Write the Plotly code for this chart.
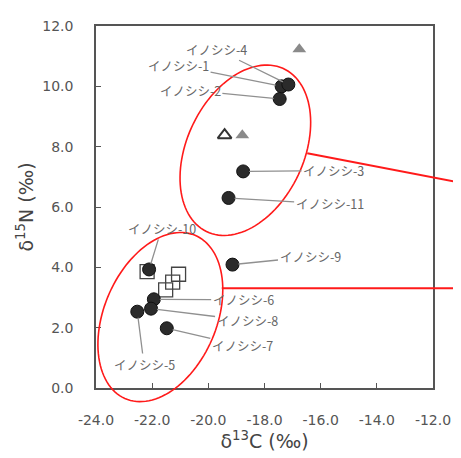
import numpy as np
import plotly.graph_objects as go

# Boar samples (δ13C, δ15N)
boar_labels = ["イノシシ-1", "イノシシ-2", "イノシシ-3", "イノシシ-4", "イノシシ-5", "イノシシ-6",
               "イノシシ-7", "イノシシ-8", "イノシシ-9", "イノシシ-10", "イノシシ-11"]
boar_c = [-17.39, -17.46, -18.76, -17.15, -22.53, -21.94, -21.48, -22.04, -19.14, -22.11, -19.28]
boar_n = [10.00, 9.58, 7.18, 10.06, 2.53, 2.94, 1.98, 2.63, 4.09, 3.93, 6.30]
# label positions (data units)
label_c = [-21.06, -20.64, -15.54, -19.70, -22.29, -18.76, -18.79, -18.62, -16.38, -21.66, -15.68]
label_n = [10.68, 9.87, 7.21, 11.23, 0.78, 2.92, 1.40, 2.24, 4.35, 5.29, 6.10]

# Reference groups
square_c = [-22.18, -21.06, -21.27, -21.52]
square_n = [3.86, 3.77, 3.51, 3.25]
tri_open_c = [-19.42]
tri_open_n = [8.38]
tri_fill_c = [-18.79, -16.76]
tri_fill_n = [8.38, 11.23]

x_ticks = [-24, -22, -20, -18, -16, -14, -12]
y_ticks = [0, 2, 4, 6, 8, 10, 12]

# page body has an 8px margin; figure is placed at (8, 8)
OFF = 8
SW, SH = 461, 458               # screen size
PL, PR, PT, PB = 96, 439, 18, 388  # plot box in screen px
W, H = SW - OFF, SH - OFF
ML, MT = PL - OFF, PT - OFF
MR, MB = SW - PR, SH - PB
PW, PH = PR - PL, PB - PT

def to_paper(px, py):
    return (px - PL) / PW, (PB - py) / PH

def ellipse_path(cx, cy, a, b, theta_deg, n=120):
    th = np.radians(theta_deg)
    t = np.linspace(0, 2 * np.pi, n)
    dx = b * np.cos(t) * np.cos(th) + a * np.sin(t) * np.sin(th)
    dy = b * np.cos(t) * np.sin(th) - a * np.sin(t) * np.cos(th)
    pts = [to_paper(cx + x, cy + y) for x, y in zip(dx, dy)]
    return "M " + " L ".join(f"{x:.4f},{y:.4f}" for x, y in pts) + " Z"

fig = go.Figure()
fig.add_trace(go.Scatter(x=square_c, y=square_n, mode="markers",
                         marker=dict(symbol="square-open", size=14, color="#444",
                                     line=dict(width=1.3, color="#444")),
                         hoverinfo="skip", showlegend=False))
fig.add_trace(go.Scatter(x=tri_open_c, y=tri_open_n, mode="markers",
                         marker=dict(symbol="triangle-up-open", size=12, color="#333",
                                     line=dict(width=2, color="#333")),
                         hoverinfo="skip", showlegend=False))
fig.add_trace(go.Scatter(x=tri_fill_c, y=tri_fill_n, mode="markers",
                         marker=dict(symbol="triangle-up", size=12, color="#8a8a8a",
                                     line=dict(width=0)),
                         hoverinfo="skip", showlegend=False))
fig.add_trace(go.Scatter(x=boar_c, y=boar_n, mode="markers", text=boar_labels,
                         marker=dict(symbol="circle", size=13, color="#2b2b2b",
                                     line=dict(width=1, color="#111")),
                         showlegend=False))

for lbl, x, y, tx, ty in zip(boar_labels, boar_c, boar_n, label_c, label_n):
    fig.add_annotation(x=x, y=y, ax=tx, ay=ty, axref="x", ayref="y", xref="x", yref="y",
                       text=lbl, showarrow=True, arrowhead=0, arrowwidth=1.3,
                       arrowcolor="#909090", standoff=6,
                       font=dict(family="Noto Sans CJK JP", size=12.5, color="#666"))

shapes = [
    dict(type="path", xref="paper", yref="paper", path=ellipse_path(248, 145, 92, 59.5, 25),
         line=dict(color="#ff1a1a", width=1.6), fillcolor="rgba(0,0,0,0)"),
    dict(type="path", xref="paper", yref="paper", path=ellipse_path(161.5, 315.5, 90.7, 57.3, 23),
         line=dict(color="#ff1a1a", width=1.6), fillcolor="rgba(0,0,0,0)"),
]
x0, y0 = to_paper(311, 148)
x1, y1 = to_paper(461, 177)
shapes.append(dict(type="line", xref="paper", yref="paper", x0=x0, y0=y0, x1=x1, y1=y1,
                   line=dict(color="#ff1a1a", width=2)))
x0, y0 = to_paper(224, 286)
x1, y1 = to_paper(461, 286)
shapes.append(dict(type="line", xref="paper", yref="paper", x0=x0, y0=y0, x1=x1, y1=y1,
                   line=dict(color="#ff1a1a", width=2)))

axis_common = dict(showgrid=False, zeroline=False, showline=True, linecolor="#555",
                   linewidth=1.5, mirror=True, ticks="inside", ticklen=5, tickcolor="#555",
                   tickwidth=1.3, tickfont=dict(family="DejaVu Sans", size=14, color="#555"))

fig.update_layout(
    width=W, height=H, margin=dict(l=ML, r=MR, t=MT, b=MB, pad=0),
    paper_bgcolor="white", plot_bgcolor="white",
    shapes=shapes,
    xaxis=dict(range=[-24, -12], tickvals=x_ticks,
               ticktext=[f"{v:.1f}" for v in x_ticks], ticklabelstandoff=18,
               title=dict(text="δ<sup>13</sup>C (‰)", standoff=3,
                          font=dict(family="DejaVu Sans", size=19, color="#444")),
               **axis_common),
    yaxis=dict(range=[0, 12], tickvals=y_ticks,
               ticktext=[f"{v:.1f}" for v in y_ticks], ticklabelstandoff=18,
               title=dict(text="δ<sup>15</sup>N (‰)", standoff=4,
                          font=dict(family="DejaVu Sans", size=19, color="#444")),
               **axis_common),
)

fig.write_html("out.html")
